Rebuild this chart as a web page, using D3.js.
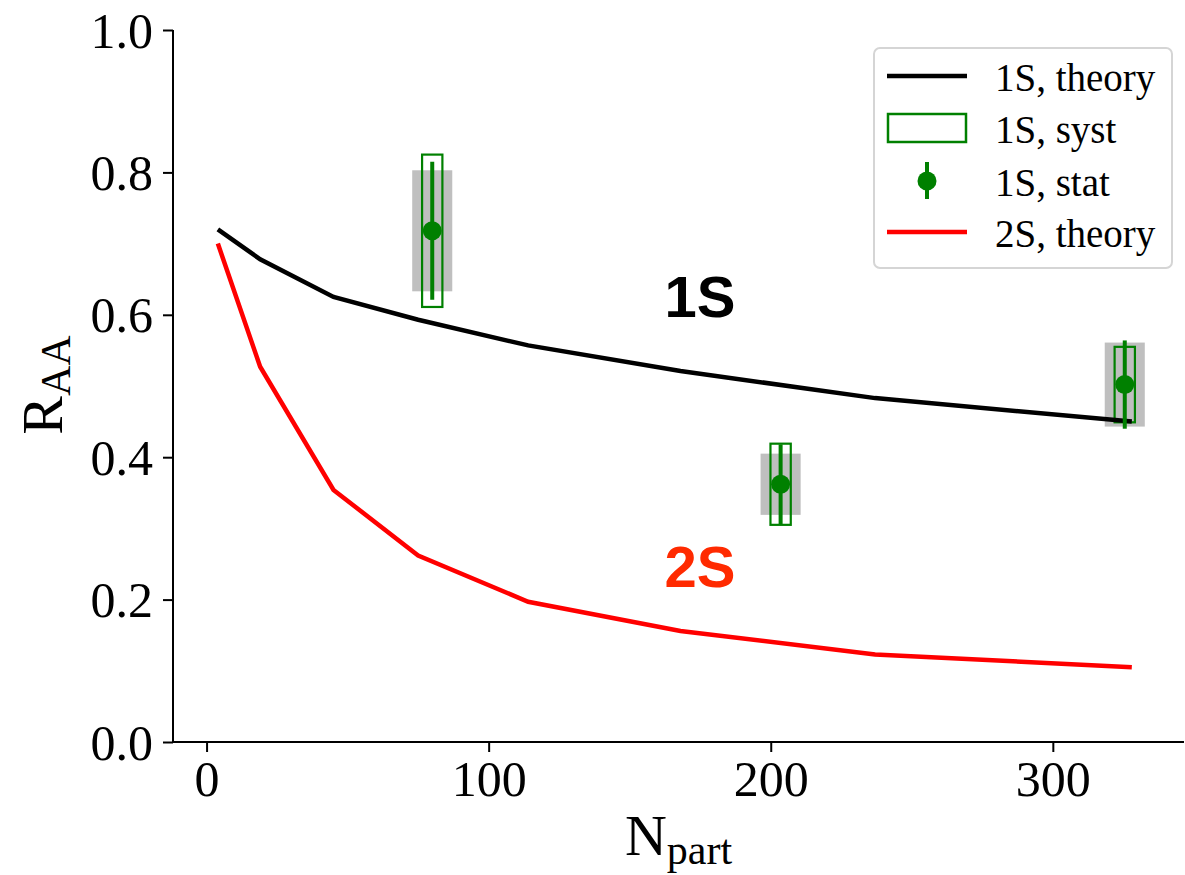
<!DOCTYPE html>
<html>
<head>
<meta charset="utf-8">
<script src="https://cdn.jsdelivr.net/npm/d3@7"></script>
<style>
  body { margin: 0; background: #fff; }
  svg text { font-family: "Liberation Serif", "DejaVu Serif", serif; }
</style>
</head>
<body>
<div id="draw_zone"></div>
<script>
// theory curves (same Npart grid for both)
var npart = [4, 19, 45, 75, 114, 168, 237, 328];
var raa1S = [0.720, 0.678, 0.625, 0.593, 0.557, 0.521, 0.483, 0.450];
var raa2S = [0.700, 0.527, 0.354, 0.262, 0.197, 0.156, 0.123, 0.105];

// measured 1S points
var dataN = [80, 203.5, 325.5];
var dataR = [0.718, 0.362, 0.502];
var statErr = [0.097, 0.056, 0.062];
var systErr = [0.107, 0.057, 0.053];
var greyErr = [0.085, 0.043, 0.059];

var xTicks = [0, 100, 200, 300];
var yTicks = [0, 0.2, 0.4, 0.6, 0.8, 1.0];
var legendLabels = ["1S, theory", "1S, syst", "1S, stat", "2S, theory"];

var W = 1185, H = 875;
var plotL = 173, plotR = 1184, plotT = 30, plotB = 742;

var holder = d3.select("#draw_zone").append("svg").attr("width", W).attr("height", H);

var x = d3.scaleLinear().domain([-11.9, 346.5]).range([plotL, plotR]);
var y = d3.scaleLinear().domain([0, 1]).range([plotB, plotT]);

// grey boxes, syst boxes, stat bars
var pts = dataN.map(function(n, i) { return {n: n, r: dataR[i], st: statErr[i], sy: systErr[i], g: greyErr[i]}; });

holder.selectAll("rect.grey").data(pts).enter().append("rect").attr("class", "grey")
  .attr("x", function(d) { return x(d.n - 7.1); })
  .attr("width", function(d) { return x(d.n + 7.1) - x(d.n - 7.1); })
  .attr("y", function(d) { return y(d.r + d.g); })
  .attr("height", function(d) { return y(d.r - d.g) - y(d.r + d.g); })
  .style("fill", "#bfbfbf");

holder.selectAll("rect.syst").data(pts).enter().append("rect").attr("class", "syst")
  .attr("x", function(d) { return x(d.n - 3.6); })
  .attr("width", function(d) { return x(d.n + 3.6) - x(d.n - 3.6); })
  .attr("y", function(d) { return y(d.r + d.sy); })
  .attr("height", function(d) { return y(d.r - d.sy) - y(d.r + d.sy); })
  .style("fill", "none").style("stroke", "green").style("stroke-width", 2.2);

// theory lines
var line = d3.line().x(function(d) { return x(d[0]); }).y(function(d) { return y(d[1]); });
holder.append("path").datum(npart.map(function(n, i) { return [n, raa2S[i]]; }))
  .attr("d", line).style("fill", "none").style("stroke", "red").style("stroke-width", 4.5);
holder.append("path").datum(npart.map(function(n, i) { return [n, raa1S[i]]; }))
  .attr("d", line).style("fill", "none").style("stroke", "black").style("stroke-width", 4.5);

holder.selectAll("line.stat").data(pts).enter().append("line").attr("class", "stat")
  .attr("x1", function(d) { return x(d.n); }).attr("x2", function(d) { return x(d.n); })
  .attr("y1", function(d) { return y(d.r + d.st); }).attr("y2", function(d) { return y(d.r - d.st); })
  .style("stroke", "green").style("stroke-width", 4);
holder.selectAll("circle.stat").data(pts).enter().append("circle").attr("class", "stat")
  .attr("cx", function(d) { return x(d.n); }).attr("cy", function(d) { return y(d.r); })
  .attr("r", 9.5).style("fill", "green");

// axes
var xAxis = holder.append("g").attr("transform", "translate(0," + plotB + ")")
  .call(d3.axisBottom(x).tickValues(xTicks).tickSize(10).tickPadding(8).tickFormat(d3.format("d")));
var yAxis = holder.append("g").attr("transform", "translate(" + plotL + ",0)")
  .call(d3.axisLeft(y).tickValues(yTicks).tickSize(10).tickPadding(10).tickFormat(d3.format(".1f")));
[xAxis, yAxis].forEach(function(a) {
  a.select(".domain").style("stroke", "black").style("stroke-width", 2)
    .attr("d", a === xAxis ? "M" + plotL + ",0H" + plotR : "M0," + plotB + "V" + plotT);
  a.selectAll(".tick line").style("stroke", "black").style("stroke-width", 2);
  a.selectAll(".tick text").style("font-size", "50px").style("font-family", "Liberation Serif").style("fill", "black");
});
yAxis.selectAll(".tick text").attr("dy", "0.34em");

// axis labels
var xl = holder.append("text").attr("x", (plotL + plotR) / 2).attr("y", 855)
  .attr("text-anchor", "middle").style("font-size", "58px");
xl.append("tspan").text("N");
xl.append("tspan").attr("dy", 9).style("font-size", "42px").text("part");

var yl = holder.append("text").attr("transform", "translate(62," + 385 + ") rotate(-90)")
  .attr("text-anchor", "middle").style("font-size", "58px");
yl.append("tspan").text("R");
yl.append("tspan").attr("dy", 8).style("font-size", "42px").text("AA");

// curve labels
holder.append("text").attr("x", 700).attr("y", 317).attr("text-anchor", "middle")
  .style("font-family", "Liberation Sans, Arial, sans-serif").style("font-weight", "bold")
  .style("font-size", "58px").style("fill", "black").text("1S");
holder.append("text").attr("x", 700).attr("y", 587).attr("text-anchor", "middle")
  .style("font-family", "Liberation Sans, Arial, sans-serif").style("font-weight", "bold")
  .style("font-size", "58px").style("fill", "#ff2a00").text("2S");

// legend
var lg = holder.append("g");
lg.append("rect").attr("x", 874).attr("y", 48).attr("width", 298).attr("height", 220)
  .attr("rx", 6).style("fill", "white").style("fill-opacity", 0.8)
  .style("stroke", "#d5d5d5").style("stroke-width", 2);
var rowY = [76, 128, 181, 232];
lg.append("line").attr("x1", 887).attr("x2", 967).attr("y1", rowY[0]).attr("y2", rowY[0])
  .style("stroke", "black").style("stroke-width", 4.5);
lg.append("rect").attr("x", 888).attr("y", rowY[1] - 14).attr("width", 78).attr("height", 28)
  .style("fill", "none").style("stroke", "green").style("stroke-width", 2.5);
lg.append("line").attr("x1", 927).attr("x2", 927).attr("y1", rowY[2] - 19).attr("y2", rowY[2] + 18)
  .style("stroke", "green").style("stroke-width", 4);
lg.append("circle").attr("cx", 927).attr("cy", rowY[2]).attr("r", 9.5).style("fill", "green");
lg.append("line").attr("x1", 887).attr("x2", 967).attr("y1", rowY[3]).attr("y2", rowY[3])
  .style("stroke", "red").style("stroke-width", 4.5);
lg.selectAll("text").data(legendLabels).enter().append("text")
  .attr("x", 995).attr("y", function(d, i) { return rowY[i] + 15; })
  .style("font-size", "39px").style("fill", "black").text(function(d) { return d; });
</script>
</body>
</html>
